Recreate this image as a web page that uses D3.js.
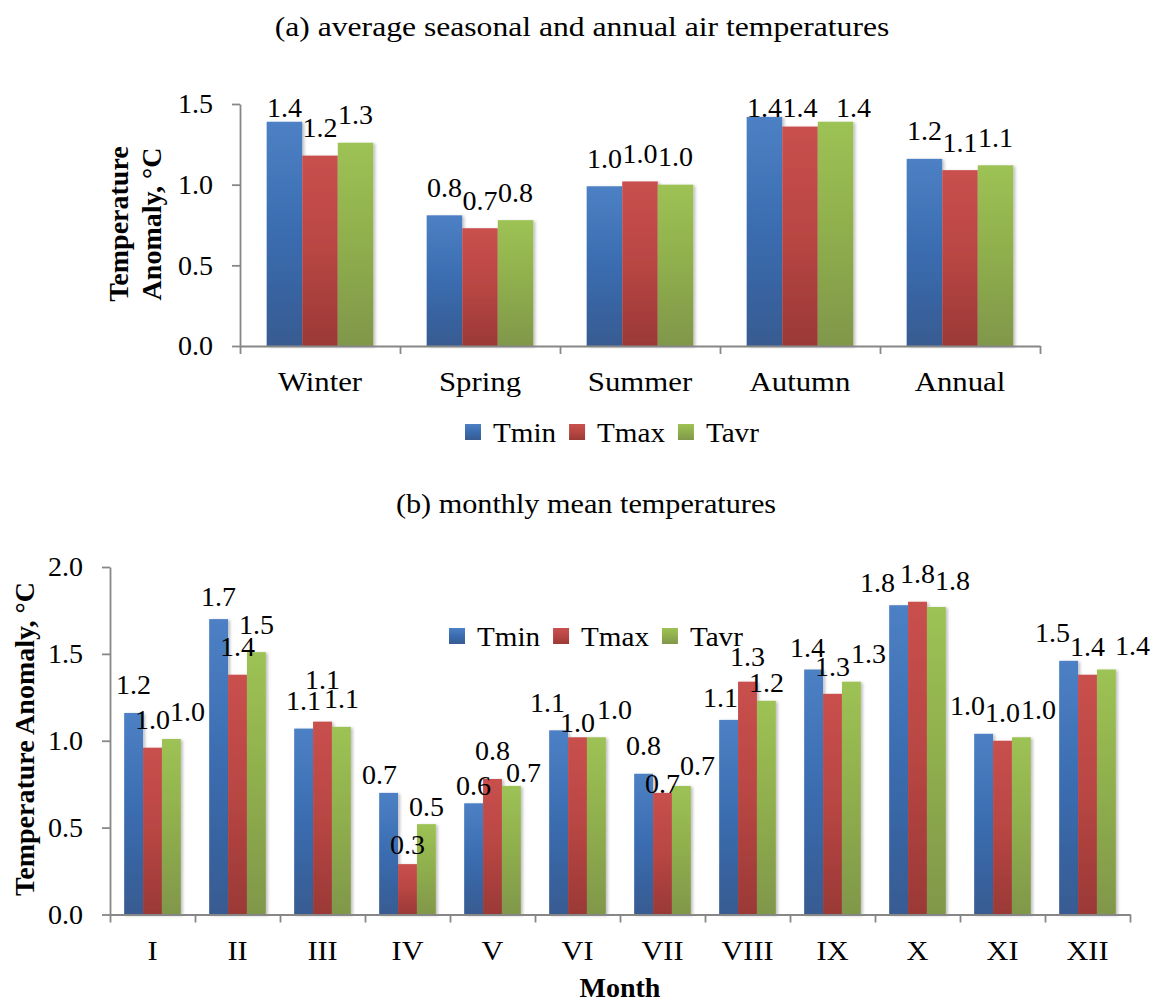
<!DOCTYPE html>
<html>
<head>
<meta charset="utf-8">
<script src="https://cdn.jsdelivr.net/npm/d3@7"></script>
<style>
  body { margin: 0; background: #fff; }
  svg text { font-family: "Liberation Serif", "Times New Roman", serif; fill: #000; }
</style>
</head>
<body>
<script>
// data
const series = ["Tmin", "Tmax", "Tavr"];

const seasons = ["Winter", "Spring", "Summer", "Autumn", "Annual"];
const tminSeason = [1.39, 0.81, 0.99, 1.42, 1.16];
const tmaxSeason = [1.18, 0.73, 1.02, 1.36, 1.09];
const tavrSeason = [1.26, 0.78, 1.00, 1.39, 1.12];
const seasonTicks = [0, 0.5, 1.0, 1.5];

const months = ["I", "II", "III", "IV", "V", "VI", "VII", "VIII", "IX", "X", "XI", "XII"];
const tminMonth = [1.16, 1.70, 1.07, 0.70, 0.64, 1.06, 0.81, 1.12, 1.41, 1.78, 1.04, 1.46];
const tmaxMonth = [0.96, 1.38, 1.11, 0.29, 0.78, 1.02, 0.70, 1.34, 1.27, 1.80, 1.00, 1.38];
const tavrMonth = [1.01, 1.51, 1.08, 0.52, 0.74, 1.02, 0.74, 1.23, 1.34, 1.77, 1.02, 1.41];
const monthTicks = [0, 0.5, 1.0, 1.5, 2.0];

const W = 1157, H = 1002;
const fontSize = 28;
const fmt = d3.format(".1f");

const svg = d3.select("body").append("svg")
  .attr("width", W)
  .attr("height", H);

// gradients like the old Excel bar style
const grads = {
  Tmin: ["#4d80c4", "#3a6cb0", "#385b91"],
  Tmax: ["#c9504d", "#b84643", "#9a3936"],
  Tavr: ["#9dc254", "#8fae4d", "#80974a"]
};
const defs = svg.append("defs");
series.forEach(s => {
  const g = defs.append("linearGradient")
    .attr("id", "g-" + s)
    .attr("x1", 0).attr("y1", 0).attr("x2", 0).attr("y2", 1);
  g.append("stop").attr("offset", "0%").attr("stop-color", grads[s][0]);
  g.append("stop").attr("offset", "50%").attr("stop-color", grads[s][1]);
  g.append("stop").attr("offset", "100%").attr("stop-color", grads[s][2]);
});
const shadow = defs.append("filter").attr("id", "shadow")
  .attr("x", "-20%").attr("y", "-5%").attr("width", "150%").attr("height", "115%");
shadow.append("feDropShadow")
  .attr("dx", 2).attr("dy", 1).attr("stdDeviation", 1.5)
  .attr("flood-color", "#000").attr("flood-opacity", 0.25);

// the source figure has its horizontal text a bit stretched
function wideText(parent, x, y, sx, size, str, anchor) {
  return parent.append("text")
    .attr("transform", `translate(${x},${y}) scale(${sx},1)`)
    .attr("text-anchor", anchor || "middle")
    .style("font-size", size + "px")
    .text(str);
}

function drawChart(opt) {
  const g = svg.append("g");
  const x = d3.scaleBand()
    .domain(opt.categories)
    .range([opt.left, opt.right])
    .paddingInner(1 / 3)
    .paddingOuter(1 / 6);
  const xs = d3.scaleBand()
    .domain(series)
    .range([0, x.bandwidth()]);
  const y = d3.scaleLinear()
    .domain([0, opt.ticks[opt.ticks.length - 1]])
    .range([opt.bottom, opt.top]);

  const rows = opt.categories.map((c, i) => ({
    cat: c,
    vals: series.map((s, j) => ({ s: s, v: opt.values[j][i] }))
  }));

  // bars
  const grp = g.selectAll("g.cat")
    .data(rows)
    .enter()
    .append("g")
    .attr("class", "cat")
    .attr("transform", d => `translate(${x(d.cat)},0)`);

  grp.selectAll("rect")
    .data(d => d.vals)
    .enter()
    .append("rect")
    .attr("x", d => xs(d.s))
    .attr("y", d => y(d.v))
    .attr("width", xs.bandwidth())
    .attr("height", d => y(0) - y(d.v))
    .attr("fill", d => `url(#g-${d.s})`)
    .attr("filter", "url(#shadow)");

  // y axis
  const yAxis = d3.axisLeft(y)
    .tickValues(opt.ticks)
    .tickFormat(fmt)
    .tickSize(8)
    .tickSizeOuter(0)
    .tickPadding(19);
  const ya = g.append("g")
    .attr("transform", `translate(${opt.left},0)`)
    .call(yAxis);
  ya.selectAll("text").style("font-size", fontSize + "px");

  // x axis with ticks between categories
  const xb = d3.scaleLinear().domain([0, opt.categories.length]).range([opt.left, opt.right]);
  const xAxis = d3.axisBottom(xb)
    .tickValues(d3.range(opt.categories.length + 1))
    .tickFormat("")
    .tickSize(8)
    .tickSizeOuter(0);
  g.append("g")
    .attr("transform", `translate(0,${opt.bottom})`)
    .call(xAxis);

  g.selectAll(".domain, .tick line")
    .attr("stroke", "#878787")
    .attr("stroke-width", 1.8);

  opt.categories.forEach(c => {
    wideText(g, x(c) + x.bandwidth() / 2, opt.bottom + 45, opt.catStretch, fontSize, c);
  });

  // value labels
  const nudge = d => opt.nudge[d.cat + "|" + d.s] || [0, 0];
  grp.selectAll("text.val")
    .data(d => d.vals.map(v => Object.assign({ cat: d.cat }, v)))
    .enter()
    .append("text")
    .attr("class", "val")
    .attr("x", d => xs(d.s) + xs.bandwidth() / 2 + nudge(d)[0])
    .attr("y", d => Math.max(y(d.v) - 18.5, opt.labelMin) + nudge(d)[1])
    .attr("text-anchor", "middle")
    .style("font-size", fontSize + "px")
    .text(d => fmt(d.v));

  // legend
  let lx = opt.legendX;
  series.forEach(s => {
    g.append("rect")
      .attr("x", lx)
      .attr("y", opt.legendY - 8)
      .attr("width", 16)
      .attr("height", 16)
      .attr("fill", `url(#g-${s})`);
    const t = wideText(g, lx + 28, opt.legendY + 9.5, 1.04, fontSize, s, "start");
    lx += 28 + t.node().getComputedTextLength() * 1.04 + 13;
  });

  // title
  wideText(g, opt.titleX, opt.titleY, opt.titleStretch, fontSize, opt.title);
}

// (a) seasonal chart
drawChart({
  categories: seasons,
  values: [tminSeason, tmaxSeason, tavrSeason],
  ticks: seasonTicks,
  left: 240, right: 1040, top: 104, bottom: 346,
  labelMin: 116.7,
  nudge: { "Autumn|Tavr": [18, 0] },
  legendX: 465, legendY: 432,
  catStretch: 1.1,
  title: "(a) average seasonal and annual air temperatures",
  titleX: 582, titleY: 36, titleStretch: 1.13
});

svg.append("text")
  .attr("transform", "translate(128,224) rotate(-90)")
  .attr("text-anchor", "middle")
  .style("font-size", fontSize + "px")
  .style("font-weight", "bold")
  .text("Temperature");
svg.append("text")
  .attr("transform", "translate(161,224) rotate(-90)")
  .attr("text-anchor", "middle")
  .style("font-size", fontSize + "px")
  .style("font-weight", "bold")
  .text("Anomaly, °C");

// (b) monthly chart
drawChart({
  categories: months,
  values: [tminMonth, tmaxMonth, tavrMonth],
  ticks: monthTicks,
  left: 110, right: 1130, top: 567, bottom: 914.5,
  labelMin: 0,
  nudge: {
    "I|Tavr": [16, 0],
    "II|Tmin": [0, 5],
    "III|Tmax": [0, -14],
    "IV|Tmin": [-9, 10],
    "IV|Tmax": [0, 8],
    "IV|Tavr": [0, 10],
    "V|Tmin": [0, 10],
    "V|Tavr": [12, 15],
    "VI|Tmin": [-11, 0],
    "VI|Tmax": [0, 13],
    "VI|Tavr": [18, 0],
    "VII|Tmax": [0, 19],
    "VII|Tavr": [16, 8],
    "VIII|Tmin": [-8, 6],
    "VIII|Tmax": [0, 3],
    "VIII|Tavr": [0, 10],
    "IX|Tmin": [-6, 6],
    "IX|Tmax": [0, 1],
    "IX|Tavr": [17, 0],
    "X|Tmin": [-21, 5],
    "X|Tavr": [16, 2],
    "XI|Tmin": [-16, 0],
    "XI|Tavr": [17, 0],
    "XII|Tmin": [-16, 0],
    "XII|Tavr": [26, 4]
  },
  legendX: 449, legendY: 636,
  catStretch: 1.08,
  title: "(b)  monthly mean temperatures",
  titleX: 586, titleY: 513, titleStretch: 1.08
});

svg.append("text")
  .attr("transform", "translate(34,739) rotate(-90)")
  .attr("text-anchor", "middle")
  .style("font-size", fontSize + "px")
  .style("font-weight", "bold")
  .text("Temperature Anomaly, °C");

svg.append("text")
  .attr("x", 620)
  .attr("y", 997)
  .attr("text-anchor", "middle")
  .style("font-size", fontSize + "px")
  .style("font-weight", "bold")
  .text("Month");
</script>
</body>
</html>
